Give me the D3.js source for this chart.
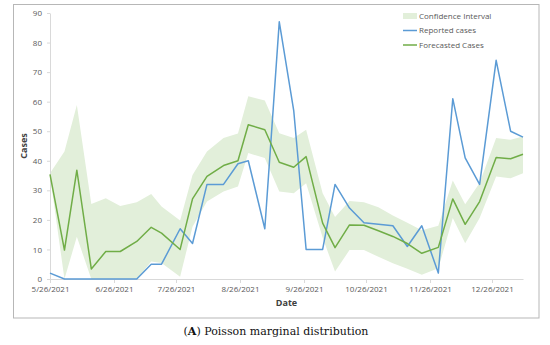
<!DOCTYPE html>
<html>
<head>
<meta charset="utf-8">
<script src="https://cdn.jsdelivr.net/npm/d3@7"></script>
<style>
  body { margin: 0; background: #fff; }
  #container { width: 550px; height: 345px; }
  .axis text { font-family: "Open Sans", sans-serif; font-size: 8px; fill: #595959; }
  .axis path, .axis line { stroke: #d9d9d9; }
</style>
</head>
<body>
<div id="container"></div>
<script>
const dates = [
  "2021-05-26", "2021-06-02", "2021-06-08", "2021-06-15", "2021-06-22", "2021-06-29",
  "2021-07-07", "2021-07-14", "2021-07-19", "2021-07-28", "2021-08-03", "2021-08-10",
  "2021-08-18", "2021-08-25", "2021-08-30", "2021-09-07", "2021-09-14", "2021-09-21",
  "2021-09-27", "2021-10-05", "2021-10-11", "2021-10-18", "2021-10-25", "2021-11-01",
  "2021-11-08", "2021-11-15", "2021-11-22", "2021-11-30", "2021-12-07", "2021-12-13",
  "2021-12-20", "2021-12-28", "2022-01-04", "2022-01-10"
];

const reported = [
  2, 0, 0, 0, 0, 0, 0, 5, 5, 17, 12, 32, 32, 39, 40, 17, 87, 57,
  10, 10, 32, 24, 19, 18.5, 18, 11, 18, 2, 61, 41, 32, 74, 50, 48
];

const forecast = [
  35.4, 9.8, 36.8, 3.4, 9.3, 9.3, 12.7, 17.5, 15.5, 10, 27.1, 34.7, 38.4, 40, 52.2, 50.5, 39.5, 37.8,
  41.4, 18.9, 10.6, 18.3, 18.2, 16.3, 14.4, 12, 8.7, 10.7, 27.1, 18.5, 26.2, 41.1, 40.7, 42.2
];

const ciLower = [
  35, 0, 14.3, 0, 0, 0, 0, 5.9, 5.4, 0.8, 17.7, 26.2, 29.6, 31.3, 42.6, 40.9, 29.6, 29,
  32.4, 14, 2.5, 9.8, 9.8, 7.5, 5.3, 3.5, 1.4, 3.6, 20.6, 12.1, 20.6, 34.7, 34.1, 35.8
];

const ciUpper = [
  35.8, 43.1, 58.9, 25.4, 27.3, 24.7, 26, 28.8, 24.5, 19.8, 35.2, 43.1, 47.7, 49.2, 61.8, 60.4, 49.3, 47.7,
  50.5, 29, 21, 26.4, 26, 24.3, 21.5, 19, 16.5, 18, 33.3, 25.3, 32.5, 47.7, 47.1, 48.2
];

const yTicks = [0, 10, 20, 30, 40, 50, 60, 70, 80, 90];
const xTicks = [
  "2021-05-26", "2021-06-26", "2021-07-26", "2021-08-26",
  "2021-09-26", "2021-10-26", "2021-11-26", "2021-12-26"
];

const parse = d3.timeParse("%Y-%m-%d");
const data = dates.map((d, i) => ({
  date: parse(d),
  reported: reported[i],
  forecast: forecast[i],
  lo: ciLower[i],
  hi: ciUpper[i]
}));

const W = 550, H = 345;
const plot = { left: 50, right: 523, top: 13, bottom: 279 };

const svg = d3.select("#container")
  .append("svg")
  .attr("width", W)
  .attr("height", H);

// chart frame
svg.append("rect")
  .attr("x", 13.5)
  .attr("y", 4.5)
  .attr("width", 525.5)
  .attr("height", 313.5)
  .attr("fill", "#fff")
  .attr("stroke", "#b7b7b7");

const x = d3.scaleTime()
  .domain(d3.extent(data, d => d.date))
  .range([plot.left, plot.right]);

const y = d3.scaleLinear()
  .domain([0, 90])
  .range([plot.bottom, plot.top]);

// confidence band
svg.append("path")
  .datum(data)
  .attr("fill", "#e2efda")
  .attr("d", d3.area()
    .x(d => x(d.date))
    .y0(d => y(d.lo))
    .y1(d => y(d.hi)));

// axes
const fmt = d3.timeFormat("%-m/%-d/%Y");

svg.append("g")
  .attr("class", "axis")
  .attr("transform", `translate(0,${plot.bottom})`)
  .call(d3.axisBottom(x)
    .tickValues(xTicks.map(parse))
    .tickFormat(fmt)
    .tickSize(4)
    .tickSizeOuter(0)
    .tickPadding(3));

svg.append("g")
  .attr("class", "axis")
  .attr("transform", `translate(${plot.left},0)`)
  .call(d3.axisLeft(y)
    .tickValues(yTicks)
    .tickSize(3)
    .tickSizeOuter(0)
    .tickPadding(5));

// lines
const line = key => d3.line()
  .x(d => x(d.date))
  .y(d => y(d[key]));

svg.append("path")
  .datum(data)
  .attr("fill", "none")
  .attr("stroke", "#5b9bd5")
  .attr("stroke-width", 1.5)
  .attr("stroke-linejoin", "round")
  .attr("d", line("reported"));

svg.append("path")
  .datum(data)
  .attr("fill", "none")
  .attr("stroke", "#70ad47")
  .attr("stroke-width", 1.5)
  .attr("stroke-linejoin", "round")
  .attr("d", line("forecast"));

// axis titles
svg.append("text")
  .attr("transform", `translate(27,${(plot.top + plot.bottom) / 2}) rotate(-90)`)
  .attr("text-anchor", "middle")
  .style("font-family", "Open Sans, sans-serif")
  .style("font-size", "9px")
  .style("font-weight", "bold")
  .style("fill", "#404040")
  .text("Cases");

svg.append("text")
  .attr("x", (plot.left + plot.right) / 2)
  .attr("y", 306)
  .attr("text-anchor", "middle")
  .style("font-family", "Open Sans, sans-serif")
  .style("font-size", "9px")
  .style("font-weight", "bold")
  .style("fill", "#404040")
  .text("Date");

// legend
const legendItems = [
  { label: "Confidence Interval", type: "band", color: "#e2efda" },
  { label: "Reported cases", type: "line", color: "#5b9bd5" },
  { label: "Forecasted Cases", type: "line", color: "#70ad47" }
];

const legend = svg.append("g")
  .attr("transform", "translate(403,16)");

const item = legend.selectAll("g")
  .data(legendItems)
  .join("g")
  .attr("transform", (d, i) => `translate(0,${i * 14.5})`);

item.filter(d => d.type === "band")
  .append("rect")
  .attr("x", 0)
  .attr("y", -3)
  .attr("width", 14)
  .attr("height", 6)
  .attr("fill", d => d.color);

item.filter(d => d.type === "line")
  .append("line")
  .attr("x1", 0)
  .attr("x2", 14)
  .attr("stroke", d => d.color)
  .attr("stroke-width", 1.5);

item.append("text")
  .attr("x", 16)
  .attr("dy", "0.35em")
  .style("font-family", "Open Sans, sans-serif")
  .style("font-size", "8px")
  .style("fill", "#595959")
  .text(d => d.label);

// caption
const cap = svg.append("text")
  .attr("x", 276)
  .attr("y", 335)
  .attr("text-anchor", "middle")
  .style("font-family", "DejaVu Serif, serif")
  .style("font-size", "11px")
  .style("fill", "#111");
cap.append("tspan").text("(");
cap.append("tspan").style("font-weight", "bold").text("A");
cap.append("tspan").text(") Poisson marginal distribution");
</script>
</body>
</html>
